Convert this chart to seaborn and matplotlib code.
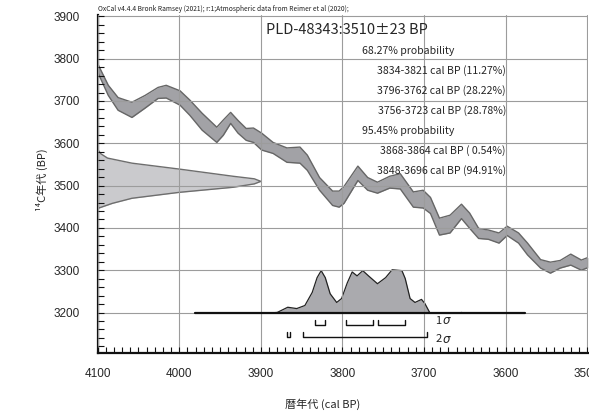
import numpy as np
import pandas as pd
import matplotlib
matplotlib.use("Agg")
import matplotlib.pyplot as plt
from matplotlib.ticker import MultipleLocator
import seaborn as sns

# Calibration curve (IntCal20): cal BP, 14C BP, 1 sigma
cal_bp = [4100, 4087, 4075, 4058, 4042, 4026, 4016, 3999, 3987, 3972,
          3954, 3946, 3937, 3928, 3918, 3909, 3899, 3885, 3868, 3852,
          3843, 3828, 3812, 3804, 3798, 3781, 3769, 3757, 3742, 3729,
          3713, 3701, 3692, 3681, 3668, 3654, 3644, 3633, 3621, 3608,
          3598, 3584, 3573, 3557, 3545, 3533, 3520, 3507, 3499]
curve_bp = [3778, 3725, 3693, 3679, 3698, 3719, 3722, 3707, 3684, 3651,
            3620, 3637, 3660, 3639, 3621, 3619, 3604, 3589, 3572, 3572,
            3554, 3504, 3470, 3468, 3478, 3529, 3504, 3495, 3508, 3510,
            3467, 3468, 3453, 3403, 3409, 3439, 3417, 3387, 3384, 3376,
            3393, 3376, 3350, 3315, 3306, 3314, 3325, 3312, 3318]
curve_err = [10, 12, 15, 18, 15, 13, 15, 17, 18, 20,
             18, 18, 13, 15, 14, 17, 20, 13, 17, 19,
             18, 15, 17, 19, 20, 17, 15, 13, 14, 18,
             18, 21, 19, 20, 21, 17, 18, 12, 11, 12,
             11, 12, 14, 10, 13, 9, 13, 12, 12]

# Measured date 3510 +/- 23 BP, profile on the y axis (relative height)
date_bp = [3585, 3575, 3565, 3553, 3539, 3522, 3516, 3510, 3504, 3496, 3484, 3470, 3458, 3446]
date_prob = [0, 0.02, 0.06, 0.21, 0.50, 0.83, 0.96, 1.0, 0.96, 0.83, 0.50, 0.21, 0.09, 0]

# Calibrated distribution (relative height)
post_cal = [3981, 3899, 3880, 3867, 3856, 3846, 3837, 3831, 3826, 3821,
            3815, 3807, 3801, 3794, 3788, 3782, 3775, 3768, 3757, 3747,
            3739, 3727, 3723, 3717, 3711, 3703, 3699, 3693, 3689, 3660,
            3654, 3648, 3576]
post_prob = [0, 0, 0.02, 0.14, 0.11, 0.18, 0.48, 0.82, 0.98, 0.82,
             0.45, 0.25, 0.34, 0.70, 0.95, 0.86, 0.98, 0.86, 0.68, 0.82,
             1.0, 0.98, 0.80, 0.34, 0.25, 0.32, 0.23, 0.02, 0, 0,
             0.02, 0, 0]

# Ranges
range_1s = [(3834, 3821), (3796, 3762), (3756, 3723)]
range_2s = [(3868, 3864), (3848, 3696)]
range_text = ["68.27% probability",
              "3834-3821 cal BP (11.27%)",
              "3796-3762 cal BP (28.22%)",
              "3756-3723 cal BP (28.78%)",
              "95.45% probability",
              "3868-3864 cal BP ( 0.54%)",
              "3848-3696 cal BP (94.91%)"]

sns.set_theme(style="white")
plt.rcParams['font.family'] = ['Noto Sans CJK JP', 'DejaVu Sans']

W, H = 589, 412
fig = plt.figure(figsize=(W / 100, H / 100), dpi=100)
ax = fig.add_axes([97.7 / W, 1 - 352.7 / H, (587.5 - 97.7) / W, (352.7 - 15.5) / H])

curve = pd.DataFrame({"cal": cal_bp, "bp": curve_bp, "err": curve_err})
curve["lo"] = curve["bp"] - curve["err"]
curve["hi"] = curve["bp"] + curve["err"]

# calibration band
ax.fill_between(curve["cal"], curve["lo"], curve["hi"], color="#a2a2a6", lw=0, zorder=1)
sns.lineplot(data=curve, x="cal", y="lo", color="#666666", lw=1, ax=ax, sort=False)
sns.lineplot(data=curve, x="cal", y="hi", color="#666666", lw=1, ax=ax, sort=False)

# measured date on the y axis
dprof = pd.DataFrame({"bp": date_bp, "x": 4100 - 200 * np.array(date_prob)})
ax.fill_betweenx(dprof["bp"], 4100, dprof["x"], color="#cacacd", lw=0, zorder=1)
sns.lineplot(data=dprof, x="x", y="bp", color="#6e6e6e", lw=1, ax=ax, sort=False, orient="y")

# calibrated distribution
base, scale = 3198, 103
post = pd.DataFrame({"cal": post_cal, "y": base + scale * np.array(post_prob)})
ax.fill_between(post["cal"], base, post["y"], color="#aaaaae", lw=0, zorder=1)
sns.lineplot(data=post, x="cal", y="y", color="#222222", lw=0.9, ax=ax, sort=False)
ax.plot([post_cal[0], post_cal[-1]], [base, base], color="#111111", lw=1.6, zorder=3)

# range brackets
for rngs, yl, yt in [(range_1s, 3170, 3182), (range_2s, 3142, 3153)]:
    for a, b in rngs:
        ax.plot([a, a, b, b], [yt, yl, yl, yt], color="#111111", lw=1, zorder=3)
for lab, yy in [("1", 3180), ("2", 3137)]:
    ax.text(3686, yy, lab, fontsize=8, ha="left", va="center", color="#222222")
    ax.text(3677.5, yy, "σ", fontsize=8.5, ha="left", va="center", style="italic",
            family="DejaVu Sans", color="#222222")

ax.set_xlim(4100, 3499.5)
ax.set_ylim(3105, 3902)
ax.xaxis.set_major_locator(MultipleLocator(100))
ax.xaxis.set_minor_locator(MultipleLocator(10))
ax.yaxis.set_major_locator(MultipleLocator(100))
ax.yaxis.set_minor_locator(MultipleLocator(20))
ax.set_axisbelow(False)
ax.grid(True, which="major", color="#9c9c9c", lw=0.8)
ax.tick_params(which="both", direction="in", bottom=True, left=True, top=False, right=False,
               color="#111111", width=0.8, labelsize=8.5)
ax.tick_params(which="major", length=4)
ax.tick_params(which="minor", length=4)
ax.tick_params(axis="x", pad=11)
ax.tick_params(axis="y", pad=13)
for lab in ax.get_xticklabels() + ax.get_yticklabels():
    lab.set_family(["Liberation Sans", "DejaVu Sans"])
for s in ["top", "right"]:
    ax.spines[s].set_visible(False)
for s in ["left", "bottom"]:
    ax.spines[s].set_color("#111111")
    ax.spines[s].set_linewidth(1.6)
ax.set_xlabel("")
ax.set_ylabel("")

# texts
fig.text(98 / W, 1 - 9 / H,
         "OxCal v4.4.4 Bronk Ramsey (2021); r:1;Atmospheric data from Reimer et al (2020);",
         fontsize=4.8, ha="left", va="center", color="#222222")
fig.text(266 / W, 1 - 30 / H, "PLD-48343:3510±23 BP", fontsize=10.5, ha="left", va="center")
ys = [50.7, 70.7, 90.7, 110.7, 130.5, 150.7, 170.7]
for t, yy in zip(range_text, ys):
    if "probability" in t:
        fig.text(362 / W, 1 - yy / H, t, fontsize=7.6, ha="left", va="center")
    else:
        fig.text(506 / W, 1 - yy / H, t, fontsize=7.6, ha="right", va="center")

fig.text(42 / W, 1 - 180 / H, "¹⁴C年代 (BP)", fontsize=8, rotation=90, ha="center", va="center")
fig.text(323 / W, 1 - 404 / H, "暦年代 (cal BP)", fontsize=8, ha="center", va="center")

fig.savefig("out.png", dpi=100)
